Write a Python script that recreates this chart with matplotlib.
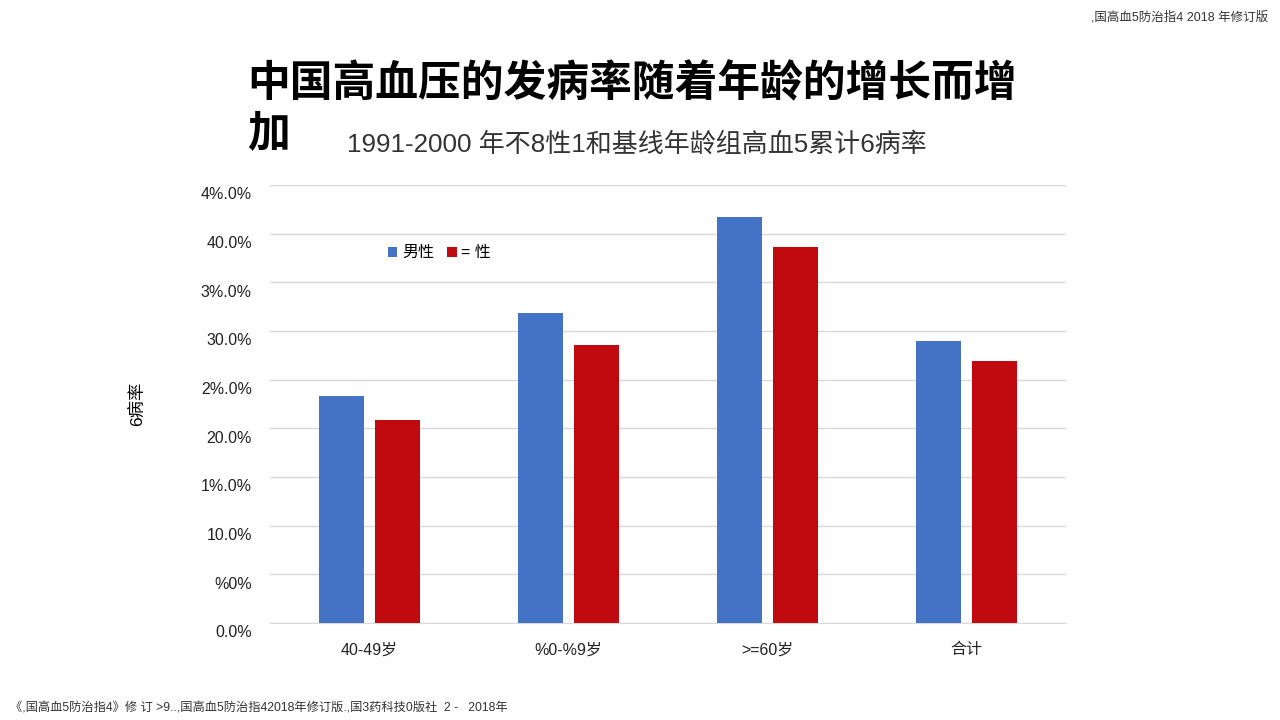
import matplotlib.pyplot as plt
from matplotlib.transforms import ScaledTranslation
import numpy as np

plt.rcParams["font.family"] = ["Liberation Sans", "Noto Sans CJK SC", "DejaVu Sans"]

# ---------------------------------------------------------------------------
# Data
# ---------------------------------------------------------------------------
CATEGORIES = ["40-49岁", "%0-%9岁", ">=60岁", "合计"]
MALE = [23.3, 31.8, 41.7, 29.0]
FEMALE = [20.9, 28.6, 38.6, 26.9]
SERIES_NAMES = ["男性", "= 性"]

Y_TICKS = [0, 5, 10, 15, 20, 25, 30, 35, 40, 45]
Y_TICK_LABELS = ["0.0%", "%0%", "10.0%", "1%.0%", "20.0%", "2%.0%",
                 "30.0%", "3%.0%", "40.0%", "4%.0%"]

BLUE = "#4472C4"
RED = "#C00A10"
GRID = "#D9D9D9"

# ---------------------------------------------------------------------------
# Figure
# ---------------------------------------------------------------------------
fig = plt.figure(figsize=(12.8, 7.2), dpi=100)
ax = fig.add_axes([270 / 1280, 1 - 623 / 720, 796 / 1280, 438 / 720])

x = np.arange(len(CATEGORIES))
w = 0.226
ax.bar(x - 0.143, MALE, w, color=BLUE, label=SERIES_NAMES[0], zorder=3)
ax.bar(x + 0.143, FEMALE, w, color=RED, label=SERIES_NAMES[1], zorder=3)

ax.set_xlim(-0.5, len(CATEGORIES) - 0.5)
ax.set_ylim(0, 45)
ax.set_yticks(Y_TICKS)
ax.set_yticklabels(Y_TICK_LABELS, fontsize=11.5)
ax.set_xticks(x)
ax.set_xticklabels(CATEGORIES, fontsize=11.5)
ax.yaxis.grid(True, color=GRID, linewidth=1, zorder=0)
ax.tick_params(axis="both", length=0, colors="#222222")
ax.tick_params(axis="y", pad=13)
ax.tick_params(axis="x", pad=14)
for side in ["top", "right", "left"]:
    ax.spines[side].set_visible(False)
ax.spines["bottom"].set_color(GRID)

# tick labels sit a little below their gridlines in the original slide
shift = ScaledTranslation(0, -6 / 72, fig.dpi_scale_trans)
for lbl in ax.get_yticklabels():
    lbl.set_transform(lbl.get_transform() + shift)

ax.set_ylabel("6病率", fontsize=12.5, labelpad=40)

ax.legend(loc="upper left", bbox_to_anchor=(0.13, 0.895), ncol=2, frameon=False,
          fontsize=11.5, handlelength=0.6, handleheight=0.6, handletextpad=0.3,
          columnspacing=0.8)

# ---------------------------------------------------------------------------
# Slide texts
# ---------------------------------------------------------------------------
fig.text(247 / 1280, 1 - 85 / 720, "中国高血压的发病率随着年龄的增长而增",
         fontsize=30.8, fontweight="bold", ha="left", va="center")
fig.text(247 / 1280, 1 - 135 / 720, "加",
         fontsize=30.8, fontweight="bold", ha="left", va="center")
fig.text(347 / 1280, 1 - 144 / 720, "1991-2000 年不8性1和基线年龄组高血5累计6病率",
         fontsize=18.7, color="#333333", ha="left", va="center")

fig.text(1268 / 1280, 1 - 17 / 720, ",国高血5防治指4 2018 年修订版",
         fontsize=9, color="#333333", ha="right", va="center")
fig.text(10 / 1280, 1 - 708 / 720,
         "《,国高血5防治指4》修 订 >9..,国高血5防治指42018年修订版.,国3药科技0版社  2 -   2018年",
         fontsize=8.8, color="#333333", ha="left", va="center")

fig.savefig("out.png", dpi=100)
